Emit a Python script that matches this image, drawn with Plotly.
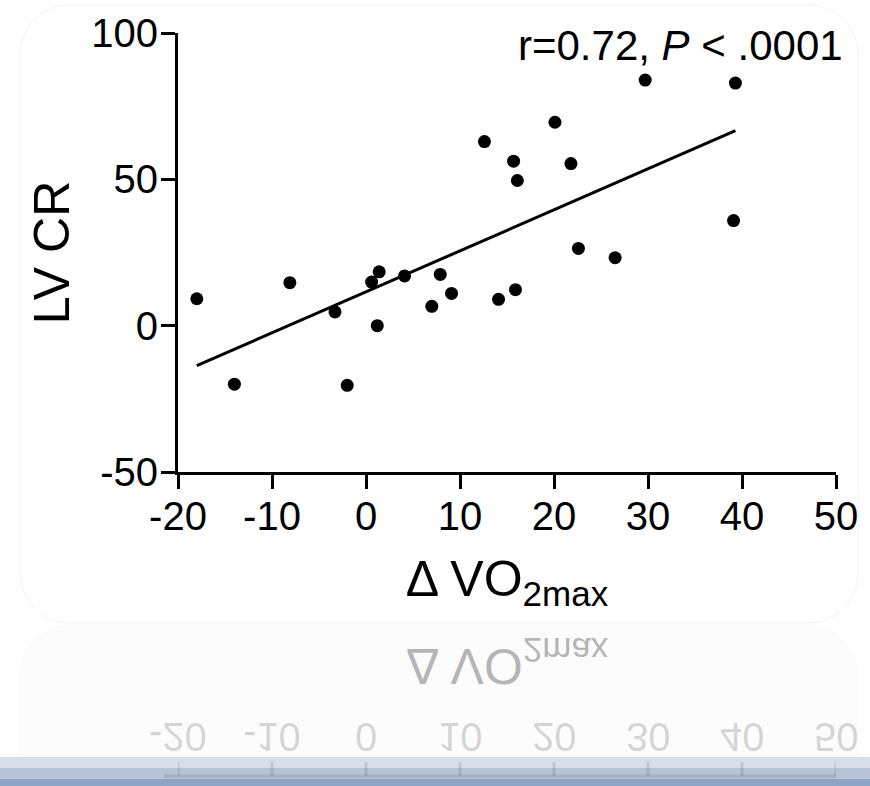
import json
import numpy as np
import plotly.graph_objects as go

# Change in peak oxygen uptake vs. LV contractile reserve
delta_vo2max = [-18.0, -14.0, -8.1, -3.3, -2.0, 1.2, 0.6, 1.4, 4.1, 7.0, 7.9, 9.1,
                12.6, 14.1, 15.7, 15.9, 16.1, 20.1, 21.8, 22.6, 26.5, 29.7, 39.3, 39.1]
lv_cr = [9.2, -20.0, 14.7, 4.7, -20.4, 0.0, 14.9, 18.4, 17.0, 6.6, 17.5, 11.0,
         62.9, 9.0, 56.2, 12.3, 49.6, 69.5, 55.4, 26.4, 23.2, 83.9, 82.9, 35.9]

x_tick_vals = [-20, -10, 0, 10, 20, 30, 40, 50]
x_tick_labels = ["-20", "-10", "0", "10", "20", "30", "40", "50"]
y_tick_vals = [-50, 0, 50, 100]
y_tick_labels = ["-50", "0", "50", "100"]
stat_label = "r=0.72, <i>P</i> < .0001"
x_title = "\u0394 VO<sub>2max</sub>"
y_title = "LV CR"

FONT = "Liberation Sans, Arial, Helvetica, sans-serif"
W, H = 870, 786
ML, MR, MT, MB = 178, 34, 33, 314
PW, PH = W - ML - MR, H - MT - MB


def px(x):
    """pixel x -> paper x"""
    return (x - ML) / PW


def py(y):
    """pixel y -> paper y"""
    return (H - MB - y) / PH


# least-squares line through the points
slope, intercept = np.polyfit(delta_vo2max, lv_cr, 1)
fit_x = np.array([min(delta_vo2max), max(delta_vo2max)])
fit_y = slope * fit_x + intercept

fig = go.Figure()
fig.add_trace(go.Scatter(x=fit_x, y=fit_y, mode="lines",
                         line=dict(color="black", width=3), hoverinfo="skip"))
fig.add_trace(go.Scatter(x=delta_vo2max, y=lv_cr, mode="markers",
                         marker=dict(color="black", size=13)))

axis_common = dict(showline=True, linecolor="black", linewidth=3, mirror=False,
                   ticks="outside", ticklen=14, tickwidth=3, tickcolor="black",
                   showgrid=False, zeroline=False,
                   tickfont=dict(family=FONT, size=40, color="black"))

fig.update_layout(
    width=W, height=H,
    margin=dict(l=ML, r=MR, t=MT, b=MB, autoexpand=False),
    paper_bgcolor="white", plot_bgcolor="rgba(0,0,0,0)",
    showlegend=False,
    xaxis=dict(range=[-20, 50], tickvals=x_tick_vals, ticktext=x_tick_labels,
               ticklabelstandoff=-7,
               title=dict(text=x_title, font=dict(family=FONT, size=50, color="black"),
                          standoff=24),
               **axis_common),
    yaxis=dict(range=[-50, 100], tickvals=y_tick_vals, ticktext=y_tick_labels,
               ticklabelstandoff=-5,
               title=dict(text=y_title, font=dict(family=FONT, size=50, color="black"),
                          standoff=6),
               **axis_common),
)

annotations = [
    dict(text=stat_label, xref="paper", yref="paper", x=px(845), y=py(46),
         xanchor="right", yanchor="middle", showarrow=False,
         font=dict(family=FONT, size=42, color="black")),
]

# mirrored copy of the lower part of the chart (glossy reflection)
MIRROR = 624.5
reflected_idx = []

reflected_idx.append(len(annotations))
annotations.append(dict(text=x_title, xref="paper", yref="paper", x=px(507),
                        y=py(662), xanchor="center", yanchor="middle", showarrow=False,
                        font=dict(family=FONT, size=50, color="rgba(0,0,0,0.30)")))
for v, lab in zip(x_tick_vals, x_tick_labels):
    reflected_idx.append(len(annotations))
    annotations.append(dict(text=lab, xref="x", yref="paper", x=v, y=py(737),
                            xanchor="center", yanchor="middle", showarrow=False,
                            font=dict(family=FONT, size=40, color="rgba(0,0,0,0.16)")))

fig.update_layout(annotations=annotations)


def rounded_path(x0, y0, x1, y1, r, top=True, bottom=True):
    k = 0.5523 * r
    P = lambda x, y: f"{px(x):.5f},{py(y):.5f}"
    parts = []
    if top:
        parts.append(f"M {P(x0, y0 + r)}")
        parts.append(f"C {P(x0, y0 + r - k)} {P(x0 + r - k, y0)} {P(x0 + r, y0)}")
        parts.append(f"L {P(x1 - r, y0)}")
        parts.append(f"C {P(x1 - r + k, y0)} {P(x1, y0 + r - k)} {P(x1, y0 + r)}")
    else:
        parts.append(f"M {P(x0, y0)}")
        parts.append(f"L {P(x1, y0)}")
    if bottom:
        parts.append(f"L {P(x1, y1 - r)}")
        parts.append(f"C {P(x1, y1 - r + k)} {P(x1 - r + k, y1)} {P(x1 - r, y1)}")
        parts.append(f"L {P(x0 + r, y1)}")
        parts.append(f"C {P(x0 + r - k, y1)} {P(x0, y1 - r + k)} {P(x0, y1 - r)}")
    else:
        parts.append(f"L {P(x1, y1)}")
        parts.append(f"L {P(x0, y1)}")
    parts.append("Z")
    return " ".join(parts)


shapes = [
    # card behind the chart
    dict(type="path", xref="paper", yref="paper", layer="below",
         path=rounded_path(20, 5, 858, 623, 50),
         fillcolor="white", line=dict(color="rgba(0,0,0,0.06)", width=1)),
    # reflected card
    dict(type="path", xref="paper", yref="paper", layer="below",
         path=rounded_path(20, 626, 858, 790, 50, bottom=False),
         fillcolor="rgba(0,0,0,0.012)", line=dict(color="rgba(0,0,0,0.025)", width=1)),
    # base bar
    dict(type="rect", xref="paper", yref="paper", x0=px(0), x1=px(W),
         y0=py(768), y1=py(757), fillcolor="#d7dee8", line=dict(width=0)),
    dict(type="rect", xref="paper", yref="paper", x0=px(0), x1=px(W),
         y0=py(779), y1=py(768), fillcolor="#b7c4d6", line=dict(width=0)),
    dict(type="rect", xref="paper", yref="paper", x0=px(0), x1=px(W),
         y0=py(H + 2), y1=py(779), fillcolor="#8fa5c3", line=dict(width=0)),
]

# faint reflected x axis line and ticks showing through the base bar
ref_axis_y = 2 * MIRROR - 473
ghost = dict(color="rgba(0,0,0,0.10)", width=3)
shapes.append(dict(type="line", xref="paper", yref="paper", x0=px(ML), x1=px(W - MR),
                   y0=py(ref_axis_y), y1=py(ref_axis_y), line=ghost))
for v in x_tick_vals:
    shapes.append(dict(type="line", xref="x", yref="paper", x0=v, x1=v,
                       y0=py(ref_axis_y), y1=py(ref_axis_y - 14), line=ghost))
shapes.append(dict(type="line", xref="paper", yref="paper", x0=px(ML - 14), x1=px(ML),
                   y0=py(ref_axis_y), y1=py(ref_axis_y), line=ghost))
fig.update_layout(shapes=shapes)

flip_js = """
var gd = document.getElementById('{plot_id}');
var idx = %s;
idx.forEach(function(i) {
  var t = gd.querySelector('.annotation[data-index="' + i + '"] .annotation-text');
  if (t) {
    t.style.transformBox = 'fill-box';
    t.style.transformOrigin = 'center';
    t.style.transform = 'scaleY(-1)';
  }
});
""" % json.dumps(reflected_idx)

fig.write_html("out.html", post_script=flip_js)
